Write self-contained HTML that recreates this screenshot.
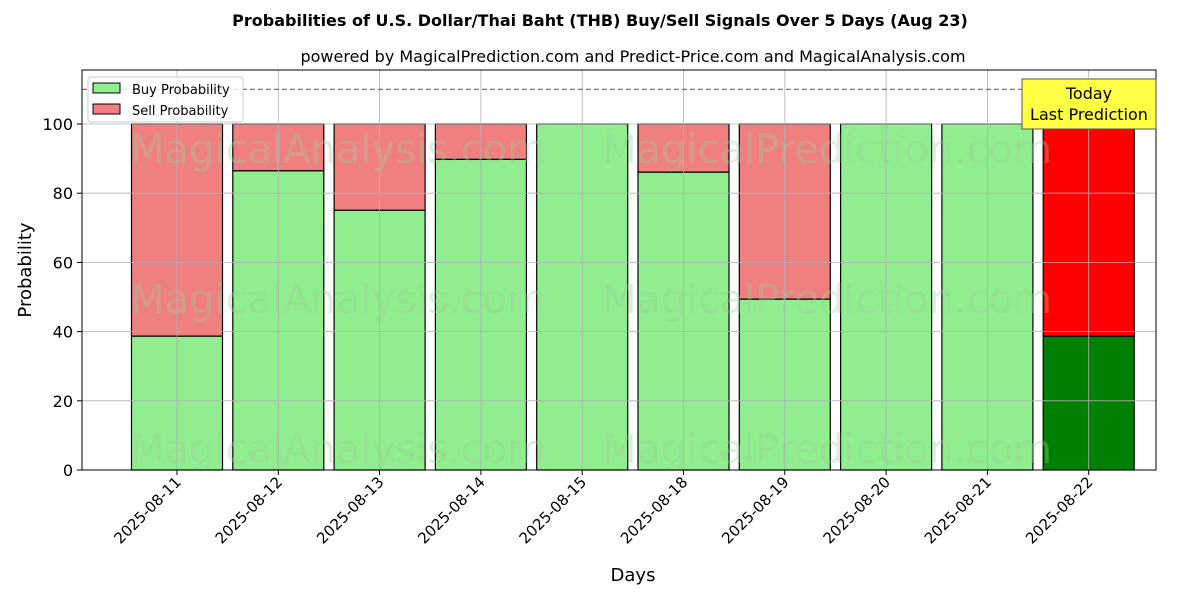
<!DOCTYPE html>
<html><head><meta charset="utf-8"><style>
body{margin:0;background:#fff;}
svg{font-family:"DejaVu Sans","Liberation Sans",sans-serif;}
</style></head><body>
<svg id="c" width="1200" height="600" xmlns="http://www.w3.org/2000/svg">
<text x="600" y="26" text-anchor="middle" font-size="16" font-weight="bold">Probabilities of U.S. Dollar/Thai Baht (THB) Buy/Sell Signals Over 5 Days (Aug 23)</text>
<text x="633" y="62" text-anchor="middle" font-size="16">powered by MagicalPrediction.com and Predict-Price.com and MagicalAnalysis.com</text>
<g id="bars"></g>
<g id="grid"></g>
<g id="wm" font-size="40" fill="#9ccf9c" fill-opacity="0.35">
<text x="130" y="163">MagicalAnalysis.com</text><text x="602" y="163">MagicalPrediction.com</text>
<text x="130" y="313">MagicalAnalysis.com</text><text x="602" y="313">MagicalPrediction.com</text>
<text x="130" y="463">MagicalAnalysis.com</text><text x="602" y="463">MagicalPrediction.com</text>
</g>
<g id="axes"></g>
<text x="633" y="581" text-anchor="middle" font-size="18">Days</text>
<text transform="translate(31,270) rotate(-90)" text-anchor="middle" font-size="18">Probability</text>
<g>
<rect x="88" y="77" width="155" height="45" fill="#fff" fill-opacity="0.8" stroke="#ccc" rx="3"/>
<g><rect x="93" y="83" width="27" height="10" fill="#90ee90" stroke="#000"/><text x="132" y="94" font-size="13">Buy Probability</text></g>
<g><rect x="93" y="104" width="27" height="10" fill="#f08080" stroke="#000"/><text x="132" y="115" font-size="13">Sell Probability</text></g>
</g>
<g>
<rect x="1022" y="79" width="134" height="50" fill="#ffff44" stroke="#555"/>
<text x="1089" y="99" text-anchor="middle" font-size="16">Today</text>
<text x="1089" y="120" text-anchor="middle" font-size="16">Last Prediction</text>
</g>
</svg>
<script>
const categories=["2025-08-11","2025-08-12","2025-08-13","2025-08-14","2025-08-15","2025-08-18","2025-08-19","2025-08-20","2025-08-21","2025-08-22"];
const buyValues=[38.7,86.5,75.1,89.8,100,86.1,49.4,100,100,38.7];
const sellValues=[61.3,13.5,24.9,10.2,0,13.9,50.6,0,0,61.3];
const yTicks=[0,20,40,60,80,100];
const NS="http://www.w3.org/2000/svg";
const L=82,R=1156,T=70,B=470;
const x=i=>177+i*101.3;
const y=v=>470-v*3.46;
const bw=91;
function mk(t,a,p){const e=document.createElementNS(NS,t);for(const k in a)e.setAttribute(k,a[k]);p.appendChild(e);return e;}
const bars=document.getElementById('bars'),grid=document.getElementById('grid'),axes=document.getElementById('axes');
categories.forEach((c,i)=>{
  const last=i===categories.length-1;
  const b=mk('rect',{x:x(i)-bw/2,y:y(buyValues[i]),width:bw,height:y(0)-y(buyValues[i]),fill:last?'#008000':'#90ee90',stroke:'#000','stroke-width':1.2},bars);
  
  
  const s=mk('rect',{x:x(i)-bw/2,y:y(buyValues[i]+sellValues[i]),width:bw,height:y(buyValues[i])-y(buyValues[i]+sellValues[i]),fill:last?'#ff0000':'#f08080',stroke:'#000','stroke-width':1.2},bars);
  
  
  const g=mk('line',{x1:x(i),x2:x(i),y1:T,y2:B,stroke:'#b0b0b0','stroke-width':0.8},grid);
  
  
  mk('line',{x1:x(i),x2:x(i),y1:B,y2:B+5,stroke:'#000'},axes);
  const t=mk('text',{transform:`translate(${x(i)+5},${B+13}) rotate(-45)`,'text-anchor':'end','font-size':15},axes);
  t.textContent=c;
  
  
});
yTicks.forEach(v=>{
  const g=mk('line',{x1:L,x2:R,y1:y(v),y2:y(v),stroke:'#b0b0b0','stroke-width':0.8},grid);
  
  
  mk('line',{x1:L-5,x2:L,y1:y(v),y2:y(v),stroke:'#000'},axes);
  const t=mk('text',{x:L-9,y:y(v)+6,'text-anchor':'end','font-size':16},axes);
  t.textContent=v;
  
  
});
const d=mk('line',{x1:L,x2:R,y1:y(110),y2:y(110),stroke:'#777','stroke-dasharray':'5,3','stroke-width':1.2},grid);


const f=mk('rect',{x:L,y:T,width:R-L,height:B-T,fill:'none',stroke:'#000','stroke-width':1},axes);


</script>
</body></html>
